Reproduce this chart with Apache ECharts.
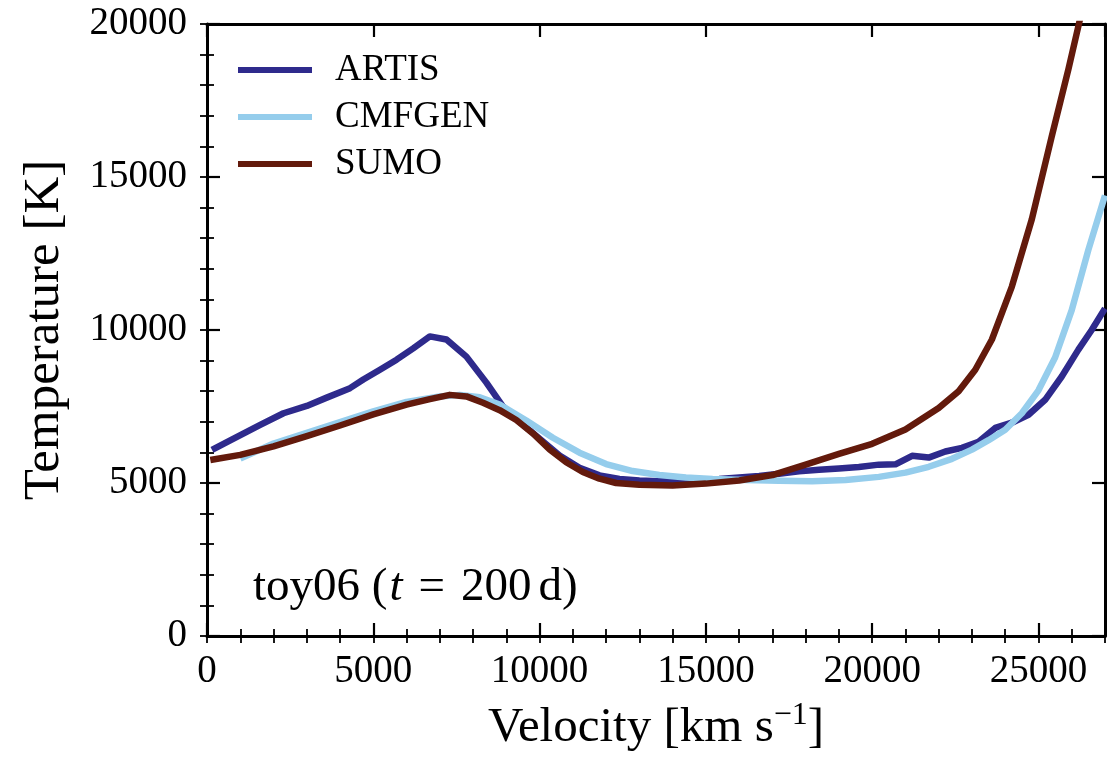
<!DOCTYPE html>
<html>
<head>
<meta charset="utf-8">
<script src="https://cdn.jsdelivr.net/npm/echarts@6/dist/echarts.min.js"></script>
<style>
html,body{margin:0;padding:0;background:#fff;overflow:hidden;}
#chart{width:1107px;height:757px;}
</style>
</head>
<body>
<div id="chart"></div>
<script>
// ---- data (velocity in km/s, temperature in K) ----
const seriesNames = ['ARTIS', 'CMFGEN', 'SUMO'];

const artisVel  = [150, 800, 1600, 2300, 3000, 3600, 4300, 4700, 5200, 5700, 6200, 6700, 7200, 7800, 8400, 8900, 9400, 10000, 10600, 11200, 11800, 12400, 13000, 13600, 14200, 14800, 15400, 16000, 16600, 17200, 17800, 18400, 19000, 19600, 20200, 20700, 21200, 21700, 22200, 22700, 23200, 23700, 24200, 24700, 25200, 25700, 26200, 26600, 27000];
const artisTemp = [6080, 6450, 6900, 7280, 7520, 7790, 8100, 8380, 8700, 9030, 9400, 9790, 9690, 9130, 8280, 7500, 7000, 6450, 5900, 5500, 5250, 5130, 5080, 5060, 5070, 5100, 5130, 5180, 5230, 5300, 5380, 5430, 5470, 5520, 5600, 5610, 5890, 5830, 6030, 6150, 6350, 6800, 6970, 7230, 7720, 8480, 9360, 10000, 10700];

const cmfgenVel  = [1000, 2000, 3000, 4000, 5000, 6000, 7000, 7600, 8200, 8800, 9600, 10400, 11200, 12000, 12800, 13600, 14400, 15200, 16200, 17200, 18200, 19200, 20200, 21000, 21700, 22400, 23000, 23500, 24000, 24500, 25000, 25500, 26000, 26500, 27000];
const cmfgenTemp = [5800, 6290, 6640, 6990, 7340, 7650, 7830, 7880, 7800, 7560, 7040, 6480, 5990, 5620, 5390, 5260, 5180, 5130, 5100, 5070, 5060, 5100, 5200, 5340, 5530, 5790, 6090, 6400, 6740, 7280, 8030, 9100, 10650, 12620, 14400];

const sumoVel  = [100, 1000, 2000, 3000, 4000, 5000, 6000, 6700, 7300, 7800, 8300, 8800, 9300, 9800, 10300, 10800, 11300, 11800, 12300, 13000, 14000, 15000, 16000, 17000, 18000, 19000, 20000, 21000, 22000, 22600, 23100, 23600, 24200, 24800, 25400, 25900, 26200, 26600];
const sumoTemp = [5750, 5920, 6200, 6530, 6880, 7240, 7560, 7740, 7880, 7830, 7620, 7380, 7060, 6620, 6100, 5680, 5360, 5140, 5000, 4940, 4920, 4980, 5080, 5260, 5600, 5950, 6280, 6750, 7450, 8000, 8700, 9690, 11420, 13620, 16330, 18520, 19930, 21800];

const xTickLabels = ['0', '5000', '10000', '15000', '20000', '25000'];
const yTickLabels = ['0', '5000', '10000', '15000', '20000'];
const xName = 'Velocity [km s{sup|−1}]';
const yName = 'Temperature [K]';
const annotation = '{a|toy06 (}{b|t}{e|=}{a|200}{d|d)}';

// ---- styles ----
const colors = ['#2e2a8c', '#95cdec', '#631a0c'];
const FONT = '"Liberation Serif", "DejaVu Serif", serif';

function pairs(xs, ys) { return xs.map((x, i) => [x, ys[i]]); }

const chart = echarts.init(document.getElementById('chart'), null, {renderer: 'canvas'});

const majorTick = {show: true, inside: true, length: 13, lineStyle: {color: '#000', width: 2.2}};
const minorTick = {show: true, inside: true, length: 7, lineStyle: {color: '#000', width: 1.8}};
const frameLine = {show: true, onZero: false, lineStyle: {color: '#000', width: 3}};

function xAx(pos, interval, tick, labels, line) {
  return {
    type: 'value', position: pos, min: 0, max: 27000, interval: interval,
    axisLine: line ? frameLine : {show: false},
    axisTick: tick, splitLine: {show: false},
    axisLabel: labels ? {
      show: true, fontFamily: FONT, fontSize: 39, color: '#000', margin: 16,
      showMaxLabel: false,
      formatter: v => (xTickLabels.indexOf(String(v)) >= 0 ? String(v) : '')
    } : {show: false}
  };
}
function yAx(pos, interval, tick, labels, line) {
  return {
    type: 'value', position: pos, min: 0, max: 20000, interval: interval,
    axisLine: line ? frameLine : {show: false},
    axisTick: tick, splitLine: {show: false},
    axisLabel: labels ? {
      show: true, fontFamily: FONT, fontSize: 39, color: '#000', margin: 20,
      formatter: v => (yTickLabels.indexOf(String(v)) >= 0 ? String(v) : '')
    } : {show: false}
  };
}

const xAxes = [
  Object.assign(xAx('bottom', 5000, majorTick, true, true), {
    name: xName, nameLocation: 'middle', nameGap: 64,
    nameTextStyle: {fontFamily: FONT, fontSize: 49, color: '#000',
      rich: {sup: {fontFamily: FONT, fontSize: 32, color: '#000', verticalAlign: 'top', padding: [0, 0, 24, 0]}}}
  }),
  xAx('bottom', 1000, minorTick, false, false),
  xAx('top', 5000, majorTick, false, true),
  xAx('top', 1000, minorTick, false, false)
];
const yAxes = [
  Object.assign(yAx('left', 5000, majorTick, true, true), {
    name: yName, nameLocation: 'middle', nameGap: 137, nameRotate: 90,
    nameTextStyle: {fontFamily: FONT, fontSize: 51, color: '#000'}
  }),
  yAx('left', 1000, minorTick, false, false),
  yAx('right', 5000, majorTick, false, true),
  yAx('right', 1000, minorTick, false, false)
];

const vels = [artisVel, cmfgenVel, sumoVel];
const temps = [artisTemp, cmfgenTemp, sumoTemp];

const series = seriesNames.map((n, i) => ({
  name: n, type: 'line', xAxisIndex: 0, yAxisIndex: 0,
  data: pairs(vels[i], temps[i]),
  showSymbol: false, symbol: 'none', smooth: false, clip: true,
  lineStyle: {color: colors[i], width: 6.5, join: 'round', cap: 'butt'},
  itemStyle: {color: colors[i]},
  z: 2 + i
}));

const annBase = {fontFamily: FONT, fontSize: 47, fontWeight: 'normal', color: '#000', lineHeight: 54};

chart.setOption({
  animation: false,
  backgroundColor: '#fff',
  color: colors,
  grid: {left: 207, right: 2, top: 24, bottom: 121, containLabel: false, outerBoundsMode: 'none'},
  title: {
    text: annotation,
    left: 248, top: 556,
    textStyle: {
      fontWeight: 'normal',
      rich: {
        a: annBase,
        b: Object.assign({}, annBase, {fontStyle: 'italic', padding: [0, 0, 0, 2]}),
        e: Object.assign({}, annBase, {padding: [0, 16, 0, 16]}),
        d: Object.assign({}, annBase, {padding: [0, 0, 0, 7]})
      }
    }
  },
  legend: {
    show: true, orient: 'vertical', left: 233, top: 45,
    itemWidth: 74, itemHeight: 6, itemGap: 7, icon: 'rect',
    data: seriesNames,
    textStyle: {fontFamily: FONT, fontSize: 37, color: '#000', lineHeight: 40, padding: [0, 0, 0, 18]}
  },
  xAxis: xAxes,
  yAxis: yAxes,
  series: series
});
</script>
</body>
</html>
